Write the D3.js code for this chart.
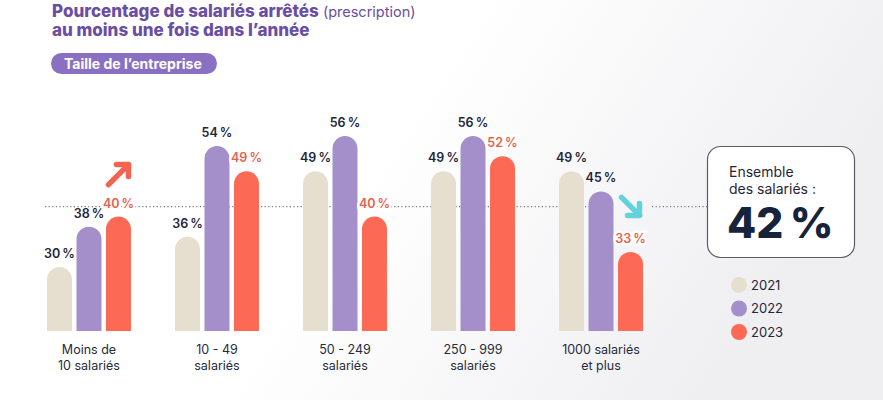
<!DOCTYPE html>
<html><head><meta charset="utf-8">
<script src="https://cdn.jsdelivr.net/npm/d3@7"></script>
<style>
html,body{margin:0;padding:0;background:#fff;}
svg{display:block;font-family:Inter,"Noto Sans",sans-serif;}
</style></head>
<body>
<svg id="chart" width="883" height="400"></svg>
<script>
const categories = [["Moins de","10 salariés"],["10 - 49","salariés"],["50 - 249","salariés"],["250 - 999","salariés"],["1000 salariés","et plus"]];
const years = ["2021","2022","2023"];
const values2021 = [30,36,49,49,49];
const values2022 = [38,54,56,56,45];
const values2023 = [40,49,40,52,33];
const overall = 42;
const colors = {"2021":"#e6dfcf","2022":"#a48fca","2023":"#fc6a55"};
const labelColors = {"2021":"#1f2638","2022":"#1f2638","2023":"#e8604d"};

const series = {"2021":values2021,"2022":values2022,"2023":values2023};
const svg = d3.select("#chart");
const defs = svg.append("defs");
const grad = defs.append("linearGradient").attr("id","bg").attr("x1","0").attr("x2","1").attr("y1","0").attr("y2","0.3");
grad.append("stop").attr("offset","0.5").attr("stop-color","#ffffff");
grad.append("stop").attr("offset","1").attr("stop-color","#efeff2");
svg.append("rect").attr("width",883).attr("height",400).attr("fill","url(#bg)");

// Title
const title = svg.append("text").attr("x",52).attr("y",17).attr("fill","#6a4ea3");
title.append("tspan").attr("font-size",17).attr("font-weight",800).text("Pourcentage de salariés arrêtés");
title.append("tspan").attr("font-size",14.5).attr("font-weight",400).text(" (prescription)");
svg.append("text").attr("x",52).attr("y",36).attr("fill","#6a4ea3").attr("font-size",17).attr("font-weight",800).text("au moins une fois dans l’année");

// Pill
svg.append("rect").attr("x",51).attr("y",53).attr("width",166).attr("height",21).attr("rx",10.5).attr("fill","#8a70c2");
svg.append("text").attr("x",64).attr("y",68.5).attr("fill","#fff").attr("font-size",14).attr("font-weight",700).text("Taille de l’entreprise");

// Scales
const keys = categories.map((c,i)=>i);
const x0 = d3.scaleBand().domain(keys).range([47,643]).paddingInner(0.344).paddingOuter(0);
const x1 = d3.scaleBand().domain(years).range([0,x0.bandwidth()]).paddingInner(0.153);
const y = d3.scaleLinear().domain([17.3,56]).range([331,136]);
const base = y(17.3);

// Dotted reference line
const ly = y(overall);
const lineG = svg.append("g").attr("stroke","#7a7a80").attr("stroke-width",1.2).attr("stroke-dasharray","1.2,2.4");
lineG.append("line").attr("x1",45).attr("x2",613).attr("y1",ly).attr("y2",ly);
lineG.append("line").attr("x1",652).attr("x2",707).attr("y1",ly).attr("y2",ly);

// Bars
function barPath(x,w,top,b){
  const r=w/2;
  return `M${x},${b}L${x},${top+r}A${r},${r} 0 0 1 ${x+w},${top+r}L${x+w},${b}Z`;
}
const groups = svg.append("g").selectAll("g").data(keys).join("g")
  .attr("transform",d=>`translate(${x0(d)},0)`);
years.forEach(yr=>{
  groups.append("path")
    .attr("d",i=>barPath(x1(yr),x1.bandwidth(),y(series[yr][i]),base))
    .attr("fill",colors[yr]);
});
years.forEach(yr=>{
  groups.append("text")
    .attr("x",x1(yr)+x1.bandwidth()/2)
    .attr("y",i=>y(series[yr][i])-9)
    .attr("text-anchor","middle")
    .attr("font-size",12.5).attr("font-weight",600)
    .attr("fill",labelColors[yr])
    .attr("stroke","#fff").attr("stroke-width",yr==="2023"?5:0).attr("paint-order","stroke")
    .text(i=>series[yr][i]+"\u202F%");
});
// Category labels
groups.append("text")
  .attr("x",x0.bandwidth()/2)
  .attr("text-anchor","middle").attr("font-size",12.5).attr("fill","#262b3a")
  .each(function(i){
    const t=d3.select(this);
    categories[i].forEach((ln,k)=>t.append("tspan").attr("x",x0.bandwidth()/2).attr("y",353.5+k*16).text(ln));
  });

// Arrows
function arrow(x1a,y1a,x2a,y2a,color){
  const g=svg.append("g").attr("stroke",color).attr("stroke-width",5.5).attr("fill","none").attr("stroke-linecap","round").attr("stroke-linejoin","round");
  g.append("line").attr("x1",x1a).attr("y1",y1a).attr("x2",x2a).attr("y2",y2a);
  const ang=Math.atan2(y2a-y1a,x2a-x1a), L=12;
  const p1=[x2a-L*Math.cos(ang-Math.PI/4),y2a-L*Math.sin(ang-Math.PI/4)];
  const p2=[x2a-L*Math.cos(ang+Math.PI/4),y2a-L*Math.sin(ang+Math.PI/4)];
  g.append("path").attr("d",`M${p1[0]},${p1[1]}L${x2a},${y2a}L${p2[0]},${p2[1]}`);
}
const g1 = x0(0)+x1("2023")+x1.bandwidth()/2;
arrow(g1-10,y(values2023[0])-32,g1+10,y(values2023[0])-52,"#f26450");
const g5 = x0(4)+x1("2023")+x1.bandwidth()/2;
arrow(g5-9,y(values2022[4])+6,g5+9,y(values2022[4])+24,"#63d2da");

// Box
svg.append("rect").attr("x",707.5).attr("y",146.5).attr("width",147).attr("height",111).attr("rx",13)
  .attr("fill","#fff").attr("stroke","#5a5d63").attr("stroke-width",1.2);
svg.append("text").attr("x",729).attr("y",177).attr("font-size",14).attr("fill","#1f2638").text("Ensemble");
svg.append("text").attr("x",729).attr("y",194).attr("font-size",14).attr("fill","#1f2638").text("des salariés :");
svg.append("text").attr("x",727).attr("y",238).attr("font-size",42.5).attr("font-weight",800).attr("fill","#17233a").text(overall+"\u202F%");

// Legend
const leg = svg.append("g").selectAll("g").data(years).join("g")
  .attr("transform",(d,i)=>`translate(739,${285+i*23.5})`);
leg.append("circle").attr("r",8).attr("fill",d=>colors[d]);
leg.append("text").attr("x",12).attr("y",4.5).attr("font-size",13).attr("fill","#1f2638").text(d=>d);
</script>
</body></html>
